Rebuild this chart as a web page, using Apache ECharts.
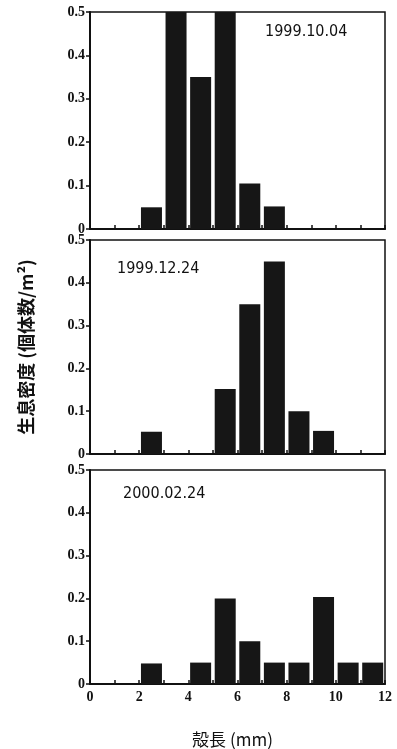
<!DOCTYPE html>
<html><head><meta charset="utf-8">
<script src="https://cdn.jsdelivr.net/npm/echarts@6/dist/echarts.min.js"></script>
<style>html,body{margin:0;padding:0;background:#fff}#c{width:397px;height:749px}</style>
</head><body><div id="c"></div>
<script>
// Bin midpoints (mm) for shell length classes
const binCenters = [0.5,1.5,2.5,3.5,4.5,5.5,6.5,7.5,8.5,9.5,10.5,11.5];
const dates = ['1999.10.04','1999.12.24','2000.02.24'];
const density1999_10_04 = [0,0,0.05,0.5,0.35,0.5,0.105,0.052,0,0,0,0];
const density1999_12_24 = [0,0,0.052,0,0,0.152,0.35,0.45,0.1,0.054,0,0];
const density2000_02_24 = [0,0,0.048,0,0.05,0.2,0.1,0.05,0.05,0.203,0.05,0.05];
const yTicks = [0,0.1,0.2,0.3,0.4,0.5];
const xTicks = [0,2,4,6,8,10,12];
const yTitle = '生息密度 (個体数/m²)';
const xTitle = '殻長 (mm)';

const series = [density1999_10_04, density1999_12_24, density2000_02_24];
const grids = [
  {left:90,right:12,top:12,height:217},
  {left:90,right:12,top:240,height:214},
  {left:90,right:12,top:470,height:221}
];
const titlePos = [{left:265,top:24},{left:117,top:261},{left:123,top:486}];
const axisLine = {show:true,lineStyle:{color:'#111',width:2}};
const tickFont = {fontFamily:'Liberation Serif',fontWeight:'bold',fontSize:14,color:'#111'};

const option = {
  backgroundColor:'#fff',
  animation:false,
  grid: grids.map(g=>Object.assign({show:true,borderColor:'#111',borderWidth:1.5,backgroundColor:'transparent'},g)),
  title: dates.map((d,i)=>({text:d,left:titlePos[i].left,top:titlePos[i].top,padding:0,
    textStyle:{fontFamily:'DejaVu Sans Condensed',fontWeight:'normal',fontSize:16,color:'#111'}})),
  xAxis: grids.map((g,i)=>({
    type:'value',gridIndex:i,min:0,max:12,interval:1,
    axisLine:axisLine,
    axisTick:{show:true,inside:true,length:4,lineStyle:{color:'#111',width:1.5}},
    splitLine:{show:false},
    axisLabel:{show:i===2,margin:6,
      formatter:v=>xTicks.indexOf(v)>=0?String(v):'', ...tickFont},
    name:i===2?xTitle:'',nameLocation:'middle',nameGap:47,
    nameTextStyle:{fontFamily:'Noto Sans CJK JP',fontSize:17,color:'#111',padding:[0,10,0,0]}
  })),
  yAxis: grids.map((g,i)=>({
    type:'value',gridIndex:i,min:0,max:0.5,interval:0.1,
    axisLine:axisLine,
    axisTick:{show:true,length:4,lineStyle:{color:'#111',width:1.5}},
    splitLine:{show:false},
    axisLabel:{margin:5,formatter:v=>{const t=yTicks.find(x=>Math.abs(x-v)<1e-9);return t===0?'0':t.toFixed(1);}, ...tickFont},
    name:i===1?yTitle:'',nameLocation:'middle',nameGap:55,nameRotate:90,
    nameTextStyle:{fontFamily:'Noto Sans CJK JP',fontWeight:'bold',fontSize:18,color:'#111'}
  })),
  series: series.map((vals,i)=>({
    type:'bar',xAxisIndex:i,yAxisIndex:i,barWidth:21,clip:true,
    itemStyle:{color:'#161616'},
    data:binCenters.map((x,k)=>[x,vals[k]])
  }))
};
echarts.init(document.getElementById('c'),null,{renderer:'canvas'}).setOption(option);
</script></body></html>
